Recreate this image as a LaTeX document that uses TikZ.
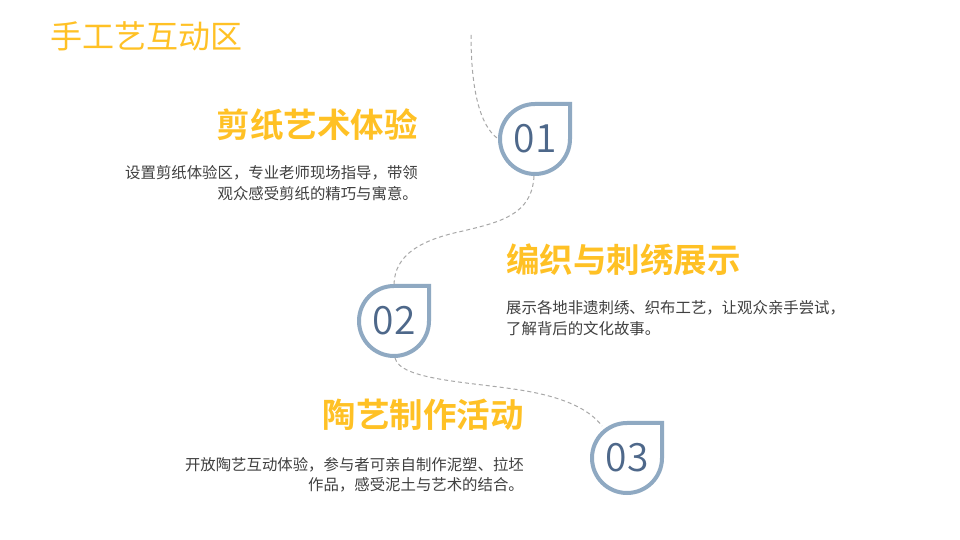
\documentclass[tikz,border=0pt]{standalone}
\usepackage{fontspec}
\usetikzlibrary{calc}
\setmainfont{Noto Sans CJK SC}[BoldFont={Noto Sans CJK SC Bold}]
\newfontfamily\numfont{Noto Sans CJK SC DemiLight}
\definecolor{gold}{HTML}{FFC125}
\definecolor{drop}{HTML}{8FA9C2}
\definecolor{num}{HTML}{4E688A}
\definecolor{body}{HTML}{404040}
\definecolor{dash}{HTML}{A8A8A8}
\begin{document}
\begin{tikzpicture}[x=1pt,y=1pt,
  titletext/.style={font=\fontsize{32}{36}\selectfont, text=gold, inner sep=0pt},
  headtext/.style={font=\bfseries\fontsize{33.5}{38}\selectfont, text=gold, inner sep=0pt},
  bodytext/.style={font=\fontsize{15.4}{20.5}\selectfont, text=body, inner sep=0pt},
  numtext/.style={font=\numfont\fontsize{39}{40}\selectfont, text=num, inner sep=0pt},
  droppath/.style={draw=drop, line width=4pt},
  link/.style={draw=dash, line width=1pt, dash pattern=on 4pt off 3pt}
]
\useasboundingbox (0,0) rectangle (960,540);
\fill[white] (0,0) rectangle (960,540);

% drop centres
\coordinate (c1) at (535,401);
\coordinate (c2) at (394,219);
\coordinate (c3) at (627,82);
\def\rr{35}

\foreach \c in {c1,c2,c3}{
  \draw[droppath] ($(\c)+(0,\rr)$) -- ($(\c)+(\rr,\rr)$) -- ($(\c)+(\rr,0)$)
    arc[start angle=0, end angle=-270, radius=\rr] -- cycle;
}

\node[numtext] (n1) at (c1) {01};
\node[numtext] (n2) at (c2) {02};
\node[numtext] (n3) at (c3) {03};

% connectors
\coordinate (s0) at (471,505);
\coordinate (d1w) at (497,402);
\coordinate (d1s) at (534,364);
\coordinate (m12) at (463,309);
\coordinate (d2n) at (394,256);
\coordinate (d2s) at (395,182);
\coordinate (m23) at (520,150);
\coordinate (d3nw) at (602,114);

\draw[link] (s0) .. controls (471,450) and (480,415) .. (d1w);
\draw[link] (d1s) .. controls (532,325) and (500,318) .. (m12)
  .. controls (420,300) and (395,285) .. (d2n);
\draw[link] (d2s) .. controls (400,160) and (470,158) .. (m23)
  .. controls (565,143) and (590,130) .. (d3nw);

% texts
\node[titletext, anchor=west] (title) at (50,504) {手工艺互动区};

\node[headtext, anchor=east] (h1) at (418,415) {剪纸艺术体验};
\node[bodytext, anchor=east, align=right] (b1) at (418,357)
  {设置剪纸体验区，专业老师现场指导，带领\\观众感受剪纸的精巧与寓意。};

\node[headtext, anchor=west] (h2) at (506,280) {编织与刺绣展示};
\node[bodytext, anchor=west, align=left] (b2) at (506,222)
  {展示各地非遗刺绣、织布工艺，让观众亲手尝试，\\了解背后的文化故事。};

\node[headtext, anchor=east] (h3) at (524,125) {陶艺制作活动};
\node[bodytext, anchor=east, align=right] (b3) at (524,65)
  {开放陶艺互动体验，参与者可亲自制作泥塑、拉坯\\作品，感受泥土与艺术的结合。};
\end{tikzpicture}
\end{document}
